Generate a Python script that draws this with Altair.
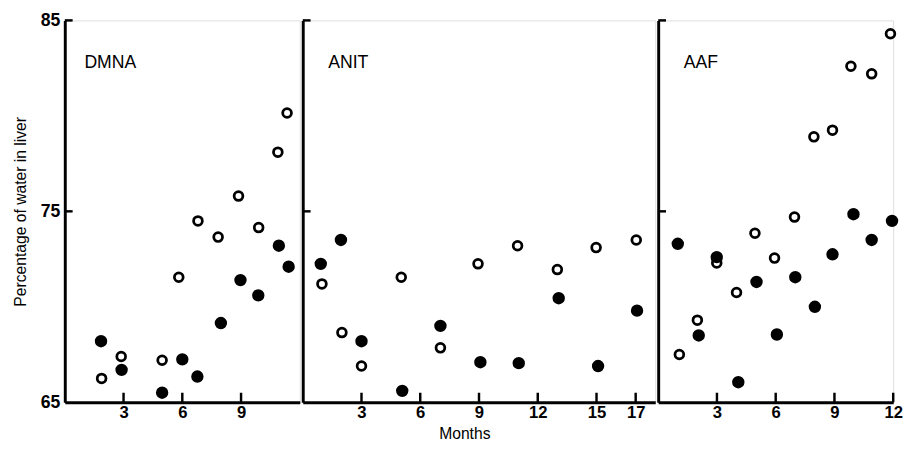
import altair as alt
import pandas as pd

# ---- data ----
dmna_solid_month = [1.85, 2.9, 4.97, 6.0, 6.77, 7.97, 8.97, 9.88, 10.93, 11.43]
dmna_solid_water = [68.2, 66.7, 65.5, 67.25, 66.35, 69.15, 71.4, 70.6, 73.2, 72.1]
dmna_open_month = [1.88, 2.88, 4.97, 5.82, 6.8, 7.83, 8.87, 9.9, 10.88, 11.35]
dmna_open_water = [66.25, 67.4, 67.2, 71.55, 74.5, 73.65, 75.8, 74.15, 78.1, 80.15]

anit_solid_month = [0.92, 1.95, 3.0, 5.08, 7.03, 9.07, 11.03, 13.07, 15.08, 17.07]
anit_solid_water = [72.25, 73.5, 68.2, 65.6, 69.0, 67.1, 67.05, 70.45, 66.9, 69.8]
anit_open_month = [0.98, 2.0, 3.0, 5.03, 7.03, 8.95, 10.97, 13.0, 14.98, 17.03]
anit_open_water = [71.2, 68.65, 66.9, 71.55, 67.85, 72.25, 73.2, 71.95, 73.1, 73.5]

aaf_solid_month = [1.0, 2.07, 2.99, 4.09, 5.02, 6.06, 7.0, 8.0, 8.9, 9.97, 10.9, 11.94]
aaf_solid_water = [73.3, 68.5, 72.6, 66.05, 71.3, 68.55, 71.55, 70.0, 72.75, 74.85, 73.5, 74.5]
aaf_open_month = [1.08, 2.0, 2.99, 4.0, 4.94, 5.94, 6.96, 7.95, 8.9, 9.84, 10.9, 11.86]
aaf_open_water = [67.5, 69.3, 72.3, 70.75, 73.85, 72.55, 74.7, 78.9, 79.25, 82.6, 82.2, 84.3]

panel_names = ["DMNA", "ANIT", "AAF"]
panel_months = [12, 18, 12]
panel_ticks = [[3, 6, 9], [3, 6, 9, 12, 15, 17], [3, 6, 9, 12]]
y_ticks = [65, 75, 85]

solid_sets = [(dmna_solid_month, dmna_solid_water), (anit_solid_month, anit_solid_water), (aaf_solid_month, aaf_solid_water)]
open_sets = [(dmna_open_month, dmna_open_water), (anit_open_month, anit_open_water), (aaf_open_month, aaf_open_water)]
panel_widths = [240, 360, 240]

LABEL_FONT = "Liberation Sans Narrow, Liberation Sans, Arial"
TEXT_FONT = "Liberation Sans, Arial"
H = 390


def make_panel(i):
    first = i == 0
    middle = i == 1
    xmax = panel_months[i]
    x_axis = alt.Axis(
        values=panel_ticks[i], ticks=False, tickSize=0, grid=False, labelFlush=False,
        domainColor="black", domainWidth=3, labelFont=LABEL_FONT, labelFontSize=17,
        labelFontWeight="bold", labelColor="black", labelPadding=3,
        title="Months" if middle else None,
        titleFont=TEXT_FONT, titleFontSize=16, titleFontWeight="normal",
        titleColor="black", titlePadding=5, titleX=165,
    )
    if first:
        y_axis = alt.Axis(
            values=y_ticks, ticks=False, tickSize=0, grid=False, labelFlush=False,
            domainColor="black", domainWidth=3, labelFont=LABEL_FONT, labelFontSize=18,
            labelFontWeight="bold", labelColor="black", labelPadding=5,
            title="Percentage of water in liver", titleFont=TEXT_FONT,
            titleFontSize=16, titleFontWeight="normal", titleColor="black", titlePadding=12,
        )
    else:
        y_axis = alt.Axis(values=y_ticks, ticks=False, tickSize=0, labels=False, grid=False,
                          domainColor="black", domainWidth=3, title=None)
    xs = alt.Scale(domain=[0, xmax], nice=False, zero=False)
    ys = alt.Scale(domain=[65, 85], nice=False, zero=False)
    X = alt.X("month:Q", scale=xs, axis=x_axis)
    Y = alt.Y("water:Q", scale=ys, axis=y_axis)

    solid = pd.DataFrame({"month": solid_sets[i][0], "water": solid_sets[i][1]})
    opn = pd.DataFrame({"month": open_sets[i][0], "water": open_sets[i][1]})
    xt = pd.DataFrame({"month": panel_ticks[i], "water": [65] * len(panel_ticks[i]),
                       "water2": [65.5] * len(panel_ticks[i])})
    yt = pd.DataFrame({"month": [0, 0], "month2": [0.4, 0.4], "water": [75, 85]})
    lab = pd.DataFrame({"month": [1.0 if first else 1.3], "water": [82.75], "name": [panel_names[i]]})

    l_solid = alt.Chart(solid).mark_point(filled=True, shape="circle", size=160, color="black", opacity=1).encode(x=X, y=Y)
    l_open = alt.Chart(opn).mark_point(filled=False, shape="circle", size=80, color="black", strokeWidth=2.8, opacity=1).encode(x=X, y=Y)
    l_xt = alt.Chart(xt).mark_rule(color="black", strokeWidth=2.5).encode(x=X, y=Y, y2="water2:Q")
    l_yt = alt.Chart(yt).mark_rule(color="black", strokeWidth=2.5).encode(x=X, x2="month2:Q", y=Y)
    l_lab = alt.Chart(lab).mark_text(align="left", baseline="middle", font=TEXT_FONT, fontSize=18,
                                     color="black").encode(x=X, y=Y, text="name:N")
    return alt.layer(l_xt, l_yt, l_solid, l_open, l_lab).properties(width=panel_widths[i], height=H)


chart = alt.hconcat(*[make_panel(i) for i in range(3)], spacing=0).properties(
    padding={"left": 4, "top": -2, "right": 0, "bottom": 0}
).configure_view(stroke=None).configure(background="white")

chart.save("out.html", embed_options={"renderer": "svg", "actions": False})
